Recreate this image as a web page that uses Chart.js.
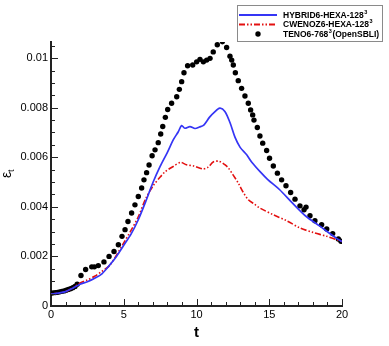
<!DOCTYPE html>
<html>
<head>
<meta charset="utf-8">
<script src="https://cdn.jsdelivr.net/npm/chart.js@4"></script>
<style>
  html, body { margin: 0; padding: 0; background: #fff; }
  #wrap { width: 389px; height: 346px; position: relative; }
</style>
</head>
<body>
<div id="wrap"><canvas id="chart"></canvas></div>
<script>
// HYBRID6-HEXA-128^3 (blue solid)
const hybridT = [0, 0.5, 1, 1.5, 2, 2.5, 3, 3.5, 4, 4.5, 5, 5.5, 6, 6.5, 7, 7.5, 8, 8.4, 8.75, 8.98, 9.2, 9.55, 9.9, 10.2, 10.5, 10.9, 11.2, 11.6, 11.95, 12.3, 12.65, 13.0, 13.45, 13.8, 14.4, 14.9, 15.7, 16.6, 17.5, 18.5, 19.6, 20]
const hybridEps = [0.00048, 0.00052, 0.00058, 0.00072, 0.00088, 0.00098, 0.00112, 0.0013, 0.00163, 0.002, 0.00245, 0.0029, 0.00348, 0.0042, 0.00497, 0.00563, 0.0062, 0.0067, 0.00703, 0.00728, 0.00717, 0.00724, 0.00716, 0.00722, 0.0073, 0.00762, 0.0078, 0.00798, 0.00785, 0.0074, 0.0068, 0.0064, 0.0061, 0.0058, 0.0054, 0.0051, 0.0047, 0.00415, 0.00363, 0.00321, 0.00274, 0.0026]

// CWENOZ6-HEXA-128^3 (red dash-dot)
const cwenoT = [0, 0.5, 1, 1.5, 2, 2.5, 3, 3.5, 4, 4.5, 5, 5.5, 6, 6.5, 7, 7.5, 7.85, 8.4, 8.9, 9.3, 9.8, 10.45, 10.8, 11.15, 11.55, 11.95, 12.2, 12.5, 12.87, 13.2, 13.56, 14.0, 14.36, 15.28, 16.2, 17.1, 18.0, 18.95, 19.75, 20]
const cwenoEps = [0.00048, 0.00052, 0.00058, 0.00073, 0.00093, 0.00105, 0.0012, 0.0014, 0.00162, 0.00205, 0.00255, 0.00305, 0.0036, 0.00432, 0.00483, 0.0052, 0.00542, 0.00563, 0.00579, 0.0057, 0.00565, 0.00553, 0.0056, 0.00581, 0.00584, 0.0057, 0.00556, 0.0053, 0.00496, 0.0046, 0.00429, 0.0041, 0.00395, 0.00368, 0.00344, 0.00315, 0.00297, 0.00281, 0.00265, 0.0026]

// TENO6-768^3 (OpenSBLI) reference dots
const tenoT = [0, 0.15, 0.3, 0.45, 0.6, 0.75, 0.9, 1.05, 1.2, 1.35, 1.5, 1.65, 1.8, 2.06, 2.38, 2.8, 2.98, 3.25, 3.64, 3.99, 4.33, 4.63, 4.88, 5.09, 5.29, 5.54, 5.77, 6.0, 6.23, 6.39, 6.57, 6.74, 6.95, 7.15, 7.37, 7.54, 7.68, 7.86, 8.02, 8.29, 8.64, 8.82, 8.98, 9.14, 9.39, 9.74, 10.01, 10.24, 10.47, 10.7, 10.93, 11.15, 11.43, 11.78, 12.07, 12.3, 12.42, 12.53, 12.67, 12.87, 13.1, 13.33, 13.56, 13.72, 13.86, 13.95, 14.18, 14.36, 14.55, 14.82, 15.02, 15.28, 15.56, 15.85, 16.15, 16.47, 16.77, 17.11, 17.39, 17.53, 17.8, 18.14, 18.6, 18.95, 19.36, 19.75, 19.93]
const tenoEps = [0.00052, 0.00053, 0.00054, 0.00055, 0.00057, 0.00059, 0.00061, 0.00064, 0.00067, 0.0007, 0.00074, 0.00079, 0.00088, 0.00123, 0.00147, 0.00158, 0.00158, 0.00163, 0.00178, 0.002, 0.0022, 0.00247, 0.00281, 0.00308, 0.00341, 0.00375, 0.00408, 0.00442, 0.00476, 0.00509, 0.00538, 0.00569, 0.00606, 0.0063, 0.00659, 0.00694, 0.00724, 0.00761, 0.00793, 0.00818, 0.00844, 0.00874, 0.00905, 0.00941, 0.00969, 0.00972, 0.00985, 0.00995, 0.00985, 0.00992, 0.00999, 0.01025, 0.01054, 0.01066, 0.01043, 0.01008, 0.00992, 0.00972, 0.00941, 0.00909, 0.00878, 0.00847, 0.00818, 0.00791, 0.00771, 0.0075, 0.0072, 0.00686, 0.00657, 0.00627, 0.00596, 0.00565, 0.00536, 0.00509, 0.00485, 0.00458, 0.00431, 0.00404, 0.00388, 0.00399, 0.00364, 0.00344, 0.00328, 0.00311, 0.00292, 0.0027, 0.00261]

const legendNames = ['HYBRID6-HEXA-128', 'CWENOZ6-HEXA-128', 'TENO6-768']
const legendSuffix = ['', '', '(OpenSBLI)']

const xTicks = [0, 5, 10, 15, 20]
const yTicks = [0, 0.002, 0.004, 0.006, 0.008, 0.01]

const toPoints = (ts, vs) => ts.map((t, i) => ({x: t, y: vs[i]}))

const BLUE = '#3535f5'
const RED = '#e31010'
const FONT = "'Liberation Sans', Arial, sans-serif"

const line = (ctx, x1, y1, x2, y2) => {
    ctx.beginPath()
    ctx.moveTo(x1, y1)
    ctx.lineTo(x2, y2)
    ctx.stroke()
}

// tecplot-like decorations: inward ticks, titles, legend box
const decor = {
    id: 'decor',
    afterDraw(chart) {
        const {ctx, chartArea: a, scales: {x, y}} = chart
        ctx.save()
        ctx.strokeStyle = '#222'
        ctx.lineWidth = 1
        for (let t = 0; t <= 20; t++) {
            const px = Math.round(x.getPixelForValue(t)) + 0.5
            line(ctx, px, a.bottom, px, a.bottom - (t % 5 === 0 ? 7 : 4))
        }
        for (let i = 0; i * 0.0005 <= y.max + 1e-9; i++) {
            const py = Math.round(y.getPixelForValue(i * 0.0005)) + 0.5
            line(ctx, a.left, py, a.left + (i % 4 === 0 ? 7 : 4), py)
        }

        // axis titles
        ctx.fillStyle = '#000'
        ctx.font = 'bold 15px ' + FONT
        ctx.textAlign = 'center'
        ctx.textBaseline = 'middle'
        ctx.fillText('t', (a.left + a.right) / 2, 333)

        ctx.save()
        ctx.translate(11, 172)
        ctx.rotate(-Math.PI / 2)
        ctx.textAlign = 'left'
        ctx.textBaseline = 'alphabetic'
        ctx.font = '14px ' + FONT
        const ew = ctx.measureText('ε').width
        ctx.fillText('ε', -ew / 2 - 3, 0)
        ctx.font = '9px ' + FONT
        ctx.fillText('t', ew / 2 - 3, 3)
        ctx.restore()

        // legend
        const bx = 237.5, by = 5.5, bw = 145, bh = 36
        ctx.fillStyle = '#fff'
        ctx.fillRect(bx, by, bw, bh)
        ctx.strokeStyle = '#8a8a8a'
        ctx.strokeRect(bx, by, bw, bh)
        const rows = [15, 24.5, 34]
        ctx.lineWidth = 1.8
        ctx.strokeStyle = BLUE
        line(ctx, 239, rows[0], 277, rows[0])
        ctx.strokeStyle = RED
        ctx.setLineDash([6, 2, 1.5, 2, 1.5, 2])
        line(ctx, 239, rows[1], 277, rows[1])
        ctx.setLineDash([])
        ctx.fillStyle = '#000'
        ctx.beginPath()
        ctx.arc(258, rows[2], 2.7, 0, Math.PI * 2)
        ctx.fill()

        ctx.textAlign = 'left'
        ctx.textBaseline = 'middle'
        legendNames.forEach((name, i) => {
            let tx = 283
            ctx.font = 'bold 8.5px ' + FONT
            ctx.fillText(name, tx, rows[i] + 0.5)
            tx += ctx.measureText(name).width + 0.5
            ctx.font = 'bold 5.5px ' + FONT
            ctx.fillText('3', tx, rows[i] - 3)
            tx += ctx.measureText('3').width + 0.5
            if (legendSuffix[i]) {
                ctx.font = 'bold 8.5px ' + FONT
                ctx.fillText(legendSuffix[i], tx, rows[i] + 0.5)
            }
        })
        ctx.restore()
    }
}

const chart = new Chart(document.getElementById('chart'), {
    type: 'scatter',
    data: {
        datasets: [{
            label: legendNames[0],
            data: toPoints(hybridT, hybridEps),
            showLine: true,
            borderColor: BLUE,
            borderWidth: 1.7,
            pointRadius: 0,
            tension: 0.3
        }, {
            label: legendNames[1],
            data: toPoints(cwenoT, cwenoEps),
            showLine: true,
            borderColor: RED,
            borderWidth: 1.6,
            borderDash: [6, 2, 1.5, 2, 1.5, 2],
            pointRadius: 0,
            tension: 0.3
        }, {
            label: legendNames[2],
            data: toPoints(tenoT, tenoEps),
            showLine: false,
            pointRadius: 2.7,
            pointBackgroundColor: '#000',
            pointBorderWidth: 0
        }]
    },
    options: {
        responsive: true,
        maintainAspectRatio: false,
        animation: false,
        layout: {padding: {left: 0, top: 42, right: 47, bottom: 0}},
        plugins: {legend: {display: false}, tooltip: {enabled: false}},
        scales: {
            x: {
                type: 'linear',
                min: 0, max: 20,
                afterFit: (s) => { s.height = 40 },
                afterBuildTicks: (s) => { s.ticks = xTicks.map(v => ({value: v})) },
                grid: {display: false, drawTicks: false},
                border: {display: true, color: '#222', width: 2},
                ticks: {color: '#000', font: {family: FONT, size: 11}, padding: 2, maxRotation: 0}
            },
            y: {
                type: 'linear',
                min: 0, max: 0.01065,
                afterFit: (s) => { s.width = 51 },
                afterBuildTicks: (s) => { s.ticks = yTicks.map(v => ({value: v})) },
                grid: {display: false, drawTicks: false},
                border: {display: true, color: '#222', width: 2},
                ticks: {
                    color: '#000', font: {family: FONT, size: 11}, padding: 3,
                    callback: (v) => String(+v.toFixed(4))
                }
            }
        }
    },
    plugins: [decor]
});
</script>
</body>
</html>
